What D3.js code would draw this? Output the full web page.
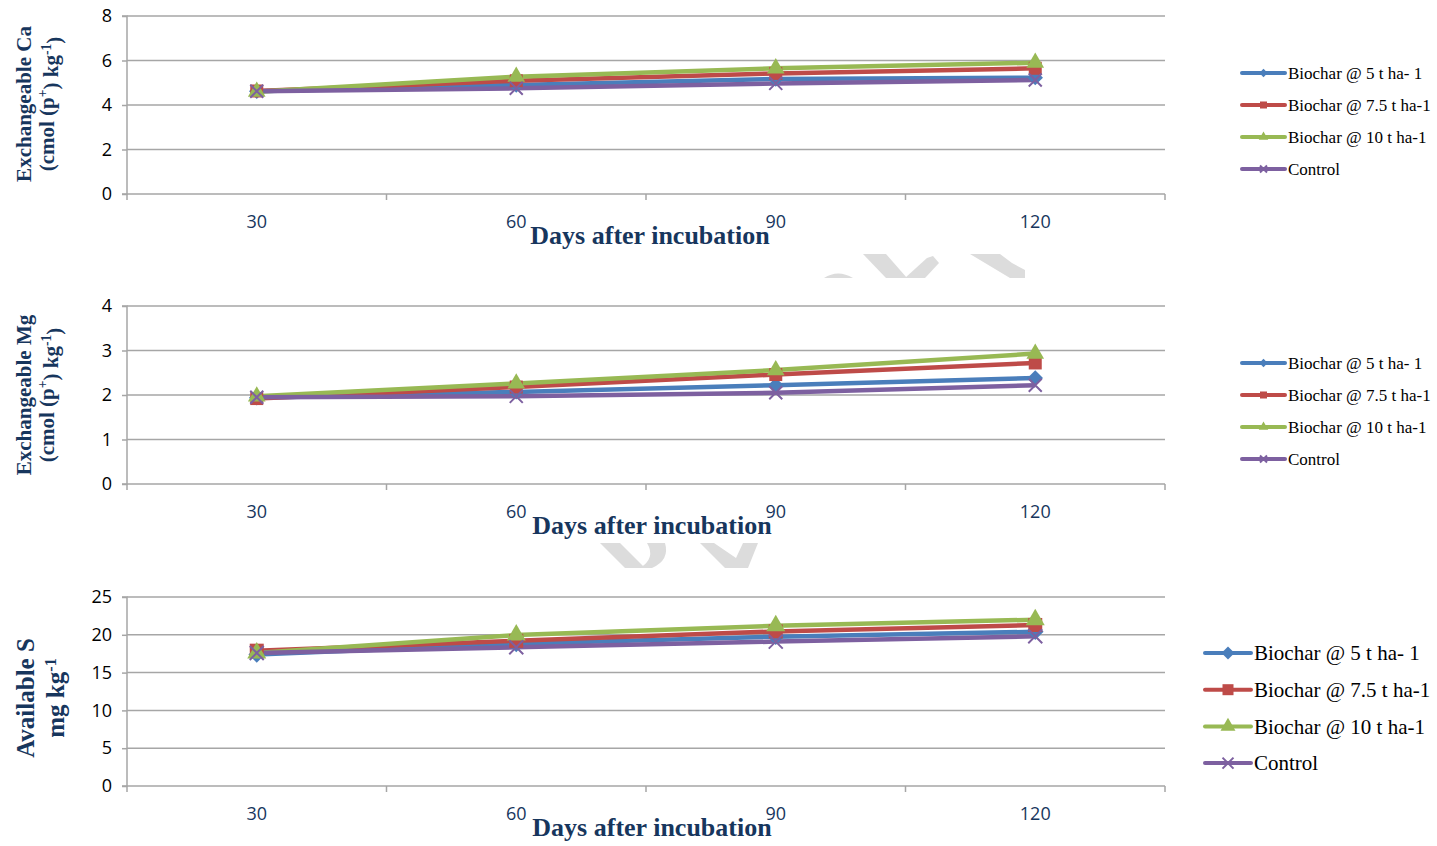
<!DOCTYPE html>
<html><head><meta charset="utf-8">
<script src="https://cdn.jsdelivr.net/npm/d3@7"></script>
<style>body{margin:0;background:#fff}svg{display:block}</style>
</head><body>
<svg id="c" width="1437" height="846"></svg>
<script>
const days = ["30","60","90","120"];
const seriesNames = ["Biochar @ 5 t ha- 1","Biochar @ 7.5 t ha-1","Biochar @ 10 t ha-1","Control"];
const caBio5  = [4.62, 4.90, 5.17, 5.23];
const caBio75 = [4.63, 5.09, 5.42, 5.65];
const caBio10 = [4.60, 5.27, 5.65, 5.90];
const caCtrl  = [4.62, 4.75, 4.97, 5.12];
const mgBio5  = [1.94, 2.07, 2.22, 2.38];
const mgBio75 = [1.92, 2.18, 2.46, 2.72];
const mgBio10 = [1.97, 2.26, 2.56, 2.93];
const mgCtrl  = [1.95, 1.97, 2.05, 2.22];
const sBio5   = [17.4, 18.8, 19.75, 20.4];
const sBio75  = [17.9, 19.2, 20.45, 21.3];
const sBio10  = [17.6, 19.96, 21.2, 22.0];
const sCtrl   = [17.6, 18.35, 19.1, 19.8];
const caTicks = [0,2,4,6,8];
const mgTicks = [0,1,2,3,4];
const sTicks  = [0,5,10,15,20,25];

const colors = ["#4A7EBB","#BE4B48","#98B954","#7D60A0"];
const shapes = ["diamond","square","triangle","x"];
const navy = "#17365D";
const svg = d3.select("#c");

// faint background watermark fragments (decoration, partly hidden behind the charts)
const wm = svg.append("g").attr("fill","#DCDCDC");
["M824,278Q838,269 853,278Z",
 "M863,254L886,254L907,278L886,278Z",
 "M905,278L927,258L933,256L939,263L925,278Z",
 "M970,254L1000,254L1012,263L1025,270L1025,278L1010,278Z",
 "M600,543L620,543L645,568L625,568Z",
 "M647,543L665,543Q670,560 652,568L640,568Q656,558 647,543Z",
 "M700,543L714,543L736,558L743,543L758,543L748,568L725,568Z"
].forEach(d=>wm.append("path").attr("d",d));

function marker(g, shape, color, s){
  if(shape==="diamond") g.append("path").attr("d",d3.symbol(d3.symbolDiamond2, s*s*0.9)()).attr("fill",color);
  else if(shape==="square") g.append("rect").attr("x",-s/2).attr("y",-s/2).attr("width",s).attr("height",s).attr("fill",color);
  else if(shape==="triangle") g.append("path").attr("d",d3.symbol(d3.symbolTriangle, s*s*0.8)()).attr("fill",color);
  else { const h=s/2; g.append("path").attr("d",`M${-h},${-h}L${h},${h}M${-h},${h}L${h},${-h}`).attr("stroke",color).attr("stroke-width",2).attr("fill","none"); }
}

function panel(cfg){
  const x = d3.scaleBand().domain(days).range([127,1165]);
  const y = d3.scaleLinear().domain([0, d3.max(cfg.ticks)]).range([cfg.bottom, cfg.top]);
  const g = svg.append("g");
  g.selectAll("line.grid").data(cfg.ticks.slice(1)).join("line")
    .attr("x1",127).attr("x2",1165).attr("y1",d=>y(d)).attr("y2",d=>y(d))
    .attr("stroke","#A6A6A6").attr("stroke-width",1.5);
  const ya = g.append("g").attr("transform","translate(127,0)").call(d3.axisLeft(y).tickValues(cfg.ticks).tickSize(5).tickPadding(10).tickFormat(d3.format("d")));
  ya.select(".domain").attr("stroke","#A6A6A6").attr("stroke-width",1.5).attr("d",`M-5,${cfg.bottom}H0V${cfg.top}H-5`);
  ya.selectAll(".tick line").attr("stroke","#A6A6A6").attr("stroke-width",1.5);
  ya.selectAll("text").attr("font-family","Open Sans, sans-serif").attr("font-size",18).attr("fill","#000");
  const xa = g.append("g").attr("transform",`translate(0,${cfg.bottom})`);
  xa.append("line").attr("x1",127).attr("x2",1165).attr("stroke","#A6A6A6").attr("stroke-width",1.5);
  const edges = days.map(d=>x(d)).concat([1165]);
  xa.selectAll("line.t").data(edges).join("line").attr("x1",d=>d).attr("x2",d=>d).attr("y1",0).attr("y2",6)
    .attr("stroke","#A6A6A6").attr("stroke-width",1.5);
  xa.selectAll("text").data(days).join("text").attr("x",d=>x(d)+x.bandwidth()/2).attr("y",34)
    .attr("text-anchor","middle").attr("font-family","Open Sans, sans-serif").attr("font-size",18).attr("fill",navy).text(d=>d);
  g.append("text").attr("x",cfg.dx).attr("y",cfg.bottom+50).attr("text-anchor","middle")
    .attr("font-family","Liberation Serif, serif").attr("font-weight","bold").attr("font-size",26).attr("fill",navy).text("Days after incubation");
  const line = d3.line().x((d,i)=>x(days[i])+x.bandwidth()/2).y(d=>y(d));
  cfg.data.forEach((arr,k)=>{
    g.append("path").attr("d",line(arr)).attr("fill","none").attr("stroke",colors[k]).attr("stroke-width",4.5).attr("stroke-linejoin","round");
  });
  cfg.data.forEach((arr,k)=>{
    arr.forEach((v,i)=>{
      const m = g.append("g").attr("transform",`translate(${x(days[i])+x.bandwidth()/2},${y(v)})`);
      marker(m, shapes[k], colors[k], cfg.ms);
    });
  });
  const yt = g.append("text").attr("transform",`translate(${cfg.t1x},${cfg.tcy}) rotate(-90)`)
    .attr("text-anchor","middle").attr("font-family","Liberation Serif, serif").attr("font-weight","bold")
    .attr("font-size",cfg.tfs).attr("fill",navy);
  yt.text(cfg.t1);
  const yt2 = g.append("text").attr("transform",`translate(${cfg.t2x},${cfg.tcy}) rotate(-90)`)
    .attr("text-anchor","middle").attr("font-family","Liberation Serif, serif").attr("font-weight","bold")
    .attr("font-size",cfg.tfs).attr("fill",navy);
  cfg.t2.forEach(p=>{
    const ts = yt2.append("tspan").text(p[0]);
    if(p[1]) ts.attr("dy",p[1]);
    if(p[2]) ts.attr("font-size",cfg.tfs*0.65);
  });
  const lg = g.append("g");
  seriesNames.forEach((n,k)=>{
    const yy = cfg.legY + k*cfg.legDy;
    lg.append("line").attr("x1",cfg.legX).attr("x2",cfg.legX+cfg.legW).attr("y1",yy).attr("y2",yy).attr("stroke",colors[k]).attr("stroke-width",4).attr("stroke-linecap","round");
    const m = lg.append("g").attr("transform",`translate(${cfg.legX+cfg.legW/2},${yy})`);
    marker(m, shapes[k], colors[k], cfg.legMs);
    lg.append("text").attr("x",cfg.legX+cfg.legW+3).attr("y",yy).attr("dy","0.35em")
      .attr("font-family","Liberation Serif, serif").attr("font-size",cfg.legFs).attr("fill","#000").text(n);
  });
}

const sub = [["(cmol (p"],["+","-0.5em",1],[") kg","0.5em"],["-1","-0.5em",1],[")","0.5em"]];
panel({top:16,bottom:194,ticks:caTicks,data:[caBio5,caBio75,caBio10,caCtrl],ms:13,dx:650,
  t1:"Exchangeable Ca",t1x:31,t2x:54,tcy:104,tfs:21,t2:sub,
  legX:1242,legY:73,legDy:32,legW:43,legMs:7,legFs:17});
panel({top:306,bottom:484,ticks:mgTicks,data:[mgBio5,mgBio75,mgBio10,mgCtrl],ms:13,dx:652,
  t1:"Exchangeable Mg",t1x:31,t2x:54,tcy:395,tfs:21,t2:sub,
  legX:1242,legY:363,legDy:32,legW:43,legMs:7,legFs:17});
panel({top:597,bottom:786,ticks:sTicks,data:[sBio5,sBio75,sBio10,sCtrl],ms:14,dx:652,
  t1:"Available S",t1x:34,t2x:64,tcy:698,tfs:25,
  t2:[["mg kg"],["-1","-0.5em",1]],
  legX:1205,legY:653,legDy:36.7,legW:46,legMs:11,legFs:21});
</script>
</body></html>
